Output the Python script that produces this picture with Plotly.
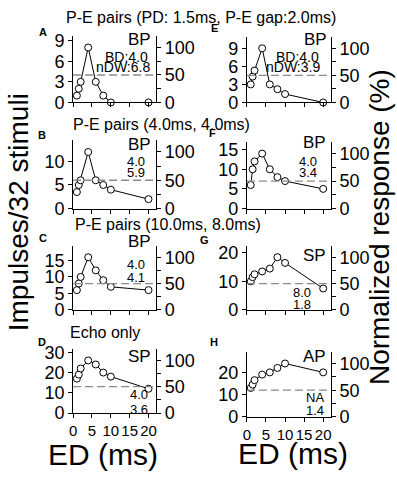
import plotly.graph_objects as go

# ---------------- data ----------------
ED = [1, 1.5, 2, 4, 6, 8, 10, 20]

resp_A = [1, 2, 3, 8, 3, 1, 0, 0]
resp_B = [3.5, 5, 6, 12, 6, 5, 4, 2]
resp_C = [6, 8, 10, 16, 12, 9, 7, 6]
resp_D = [17, 19, 22, 26, 24, 20, 18, 12]
resp_E = [3, 4.3, 5.3, 9, 3, 2.2, 1.4, 0]
resp_F = [6, 10, 12, 14, 10, 8, 7, 5]
resp_G = [10, 11.5, 12.5, 13.5, 14.5, 18.5, 16.5, 7.5]
resp_H = [13, 14.5, 16.5, 19, 20, 22, 24, 20]

left_ticks_A = [0, 3, 6, 9]
left_ticks_B = [0, 5, 10]
left_ticks_C = [0, 5, 10, 15]
left_ticks_D = [0, 10, 20, 30]
left_ticks_E = [0, 3, 6, 9]
left_ticks_F = [0, 5, 10, 15]
left_ticks_G = [0, 10, 20]
left_ticks_H = [0, 10, 20]

x_ticks = [0, 5, 10, 15, 20]
norm_ticks = [0, 25, 50, 75, 100]
norm_ticktext = ["0", "", "50", "", "100"]

panel_letters = ["A", "B", "C", "D", "E", "F", "G", "H"]
type_labels = ["BP", "BP", "BP", "SP", "BP", "BP", "SP", "AP"]
bd_labels = ["BD:4.0", "4.0", "4.0", "4.0", "BD:4.0", "4.0", "8.0", "NA"]
dw_labels = ["nDW:6.8", "5.9", "4.1", "3.6", "nDW:3.9", "3.4", "1.8", "1.4"]
row_titles = ["P-E pairs (PD: 1.5ms, P-E gap:2.0ms)", "P-E pairs (4.0ms, 4.0ms)",
              "P-E pairs (10.0ms, 8.0ms)", "Echo only"]

responses = [resp_A, resp_B, resp_C, resp_D, resp_E, resp_F, resp_G, resp_H]
left_ticks = [left_ticks_A, left_ticks_B, left_ticks_C, left_ticks_D,
              left_ticks_E, left_ticks_F, left_ticks_G, left_ticks_H]

# ---------------- layout geometry (pixels) ----------------
W, H = 397, 478
def px(x):
    return x / W
def py(y):
    return 1 - y / H

col_x = [(70, 154), (246, 331)]
# (top, bottom) in pixels for each panel
panel_y = [(30, 99), (138, 209), (248, 314), (355, 421),
           (31, 99), (140, 209), (248, 314), (358, 425)]

NORM_TOP = 121.0
FONT = "Liberation Sans, Arial, Helvetica, sans-serif"

fig = go.Figure()
layout = dict(
    width=W, height=H, autosize=False,
    margin=dict(l=0, r=0, t=0, b=0),
    paper_bgcolor="white", plot_bgcolor="white",
    showlegend=False,
    font=dict(family=FONT, color="black"),
)

annotations = []

for i in range(8):
    k = i + 1
    yl = 2 * i + 1
    yr = 2 * i + 2
    col = 0 if i < 4 else 1
    x0, x1 = col_x[col]
    top, bot = panel_y[i]
    resp = responses[i]
    peak = max(resp)
    xa = "x" if k == 1 else f"x{k}"
    yla = "y" if yl == 1 else f"y{yl}"
    yra = f"y{yr}"

    fig.add_trace(go.Scatter(
        x=ED, y=resp, xaxis=xa, yaxis=yla, mode="lines+markers",
        line=dict(color="black", width=1),
        marker=dict(symbol="circle", size=7, color="white",
                    line=dict(color="black", width=1)),
        hoverinfo="skip", cliponaxis=False,
    ))
    # 50 % line on the normalized axis
    fig.add_trace(go.Scatter(
        x=[0, 22], y=[50, 50], xaxis=xa, yaxis=yra, mode="lines",
        line=dict(color="#8a8a8a", width=1.3, dash="8px,4px"),
        hoverinfo="skip",
    ))

    dom_x = [px(x0), px(x1)]
    dom_y = [py(bot), py(top)]
    show_x_labels = i in (3, 7)

    layout["xaxis" if k == 1 else f"xaxis{k}"] = dict(
        domain=dom_x, range=[0, 22], anchor=yla,
        showline=True, linecolor="black", linewidth=1,
        ticks="outside", ticklen=4, tickwidth=1, tickcolor="black",
        tickvals=x_ticks, showticklabels=show_x_labels,
        tickfont=dict(size=15, family=FONT),
        showgrid=False, zeroline=False, fixedrange=True,
    )
    layout["yaxis" if yl == 1 else f"yaxis{yl}"] = dict(
        domain=dom_y, range=[0, peak * NORM_TOP / 100], anchor=xa, side="left",
        showline=True, linecolor="black", linewidth=1,
        ticks="outside", ticklen=4, tickwidth=1, tickcolor="black",
        tickvals=left_ticks[i], tickfont=dict(size=18, family=FONT),
        showgrid=False, zeroline=False, fixedrange=True,
    )
    layout[f"yaxis{yr}"] = dict(
        domain=dom_y, range=[0, NORM_TOP], anchor=xa, side="right",
        overlaying=yla,
        showline=True, linecolor="black", linewidth=1,
        ticks="outside", ticklen=4, tickwidth=1, tickcolor="black",
        tickvals=norm_ticks, ticktext=norm_ticktext,
        tickfont=dict(size=18, family=FONT),
        showgrid=False, zeroline=False, fixedrange=True,
    )

# ---------------- text annotations ----------------
def ann(text, x, y, size, xanchor="center", bold=False, textangle=0):
    annotations.append(dict(
        text=f"<b>{text}</b>" if bold else text,
        x=px(x), y=py(y), xref="paper", yref="paper",
        xanchor=xanchor, yanchor="middle", showarrow=False,
        font=dict(size=size, family=FONT, color="black"),
        textangle=textangle, borderpad=0,
    ))

# row titles
ann(row_titles[0], 200, 11, 16)
ann(row_titles[1], 69, 122, 16, xanchor="left")
ann(row_titles[2], 71, 226, 16, xanchor="left")
ann(row_titles[3], 66, 337, 16, xanchor="left")

# panel letters
letter_pos = [(40, 26), (38, 133), (39, 239), (38, 347),
              (213, 22), (211, 131), (203, 242), (213, 347)]
for i, (lx, ly) in enumerate(letter_pos):
    ann(panel_letters[i], lx, ly, 11, bold=True)

# in-panel labels
type_pos = [(150, 34), (150, 143), (150, 243), (150, 362),
            (328, 34), (327, 140), (327, 258), (327, 362)]
bd_pos = [(147, 52), (144, 160), (144, 267), (147, 402),
          (320, 52), (318, 160), (312, 296), (325, 405)]
dw_pos = [(149, 62), (144, 172), (144, 280), (147, 417),
          (321, 62), (318, 172), (312, 308), (325, 418)]
for i in range(8):
    ann(type_labels[i], type_pos[i][0], type_pos[i][1], 17, xanchor="right")
    sz = 14 if bd_labels[i].startswith("BD") else 13
    ann(bd_labels[i], bd_pos[i][0], bd_pos[i][1], sz, xanchor="right")
    ann(dw_labels[i], dw_pos[i][0], dw_pos[i][1], sz, xanchor="right")

# big axis titles
ann("ED (ms)", 100, 464, 30)
ann("ED (ms)", 293, 463, 30)
ann("Impulses/32 stimuli", 15, 213, 28, textangle=-90)
ann("Normalized response (%)", 381, 228, 28, textangle=-90)

layout["annotations"] = annotations
fig.update_layout(**layout)
fig.write_html("out.html", config={"displayModeBar": False},
               post_script="document.body.style.margin='0';document.body.style.overflow='hidden';")
